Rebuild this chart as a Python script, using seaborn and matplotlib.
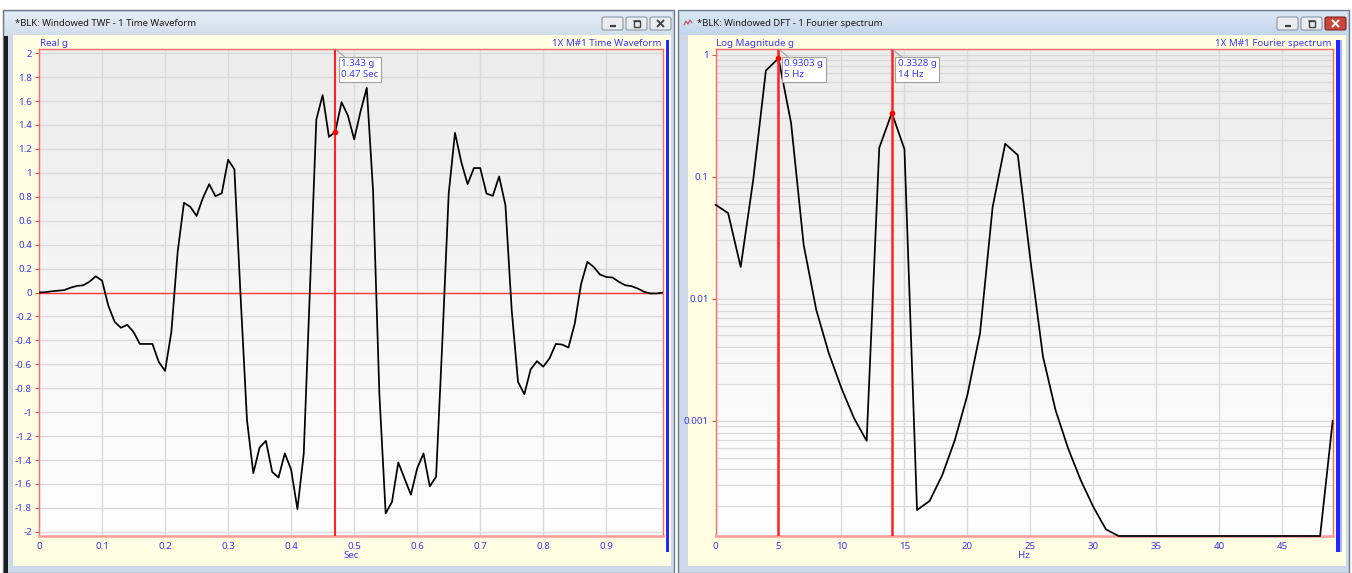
import numpy as np
import pandas as pd
import matplotlib
matplotlib.use("Agg")
import matplotlib.pyplot as plt
import seaborn as sns
from matplotlib.patches import Rectangle, FancyBboxPatch
from matplotlib.colors import LinearSegmentedColormap
from matplotlib.ticker import MultipleLocator, FuncFormatter, LogLocator, NullFormatter

# ---------------- data ----------------
sample_time = [round(i * 0.01, 2) for i in range(100)]  # sample grid, 10 ms spacing
accel_g = [
    0.0, 0.003, 0.01, 0.015, 0.02, 0.04, 0.055, 0.06, 0.09, 0.135,
    0.10, -0.11, -0.245, -0.295, -0.27, -0.33, -0.43, -0.43, -0.43, -0.58,
    -0.655, -0.33, 0.34, 0.75, 0.716, 0.64, 0.79, 0.905, 0.805, 0.83,
    1.11, 1.03, -0.05, -1.067, -1.51, -1.295, -1.24, -1.50, -1.546, -1.345,
    -1.48, -1.81, -1.35, 0.05, 1.445, 1.65, 1.30, 1.343, 1.59, 1.48,
    1.28, 1.51, 1.71, 0.85, -0.845, -1.846, -1.75, -1.42, -1.555, -1.69,
    -1.47, -1.345, -1.62, -1.54, -0.40, 0.827, 1.334, 1.09, 0.905, 1.04,
    1.04, 0.827, 0.808, 0.97, 0.73, -0.15, -0.747, -0.85, -0.643, -0.574,
    -0.62, -0.55, -0.43, -0.435, -0.46, -0.26, 0.07, 0.256, 0.214, 0.15,
    0.13, 0.125, 0.089, 0.061, 0.053, 0.033, 0.006, -0.008, -0.008, 0.0,
]

freq_hz = list(range(50))  # 1 Hz bins
spec_floor = 1.14e-4
spectrum_g = [
    0.0589, 0.0503, 0.0182, 0.095, 0.74, 0.9303, 0.275, 0.0276, 0.0081, 0.00357,
    0.00185, 0.00105, 0.000686, 0.172, 0.3328, 0.168, 0.000186, 0.000221, 0.000359, 0.000695,
    0.00163, 0.00521, 0.0563, 0.186, 0.150, 0.0208, 0.00335, 0.00122, 0.000593, 0.000326,
    0.000197, 0.000129, spec_floor, spec_floor, spec_floor, spec_floor, spec_floor, spec_floor, spec_floor, spec_floor,
    spec_floor, spec_floor, spec_floor, spec_floor, spec_floor, spec_floor, spec_floor, spec_floor, spec_floor, 0.001,
]

twf_cursor = (0.47, 1.343)
dft_cursors = [(5, 0.9303), (14, 0.3328)]

# ---------------- style ----------------
sns.set_theme(style="white")
plt.rcParams["font.family"] = ["Noto Sans", "DejaVu Sans"]

W, H = 1352, 573
BLUE_TXT = "#3a3af5"
PANEL = "#fffde2"
FRAME = "#cdd9e8"
GRID = "#dadada"
AX_RED = "#ff6b6b"
CUR_RED = "#ff2222"

fig = plt.figure(figsize=(W / 100, H / 100), dpi=100)
fig.patch.set_facecolor("white")

bg = fig.add_axes([0, 0, 1, 1])
bg.set_axis_off()


def px_rect(x0, y0, x1, y1):
    return [x0 / W, 1 - y1 / H, (x1 - x0) / W, (y1 - y0) / H]


def vgrad(ax, x0, y0, x1, y1, c_top, c_bot, z=1):
    cmap = LinearSegmentedColormap.from_list("g", [c_top, c_bot])
    ax.imshow(np.linspace(0, 1, 256)[:, None], cmap=cmap, extent=(x0, x1, y1, y0),
              aspect="auto", zorder=z, interpolation="bicubic")


def button(ax, x, y, kind, active=False):
    w, h = 21, 13
    fc = "#c9473a" if (active and kind == "x") else "#e9edf2"
    ec = "#7d2a22" if (active and kind == "x") else "#8a96a6"
    ax.add_patch(FancyBboxPatch((x, y), w, h, boxstyle="round,pad=0,rounding_size=2",
                                fc=fc, ec=ec, lw=0.8, zorder=3))
    col = "white" if (active and kind == "x") else "#404040"
    cx, cy = x + w / 2, y + h / 2
    if kind == "min":
        ax.plot([cx - 3, cx + 3], [cy + 2, cy + 2], color=col, lw=1.6, zorder=4,
                solid_capstyle="butt")
    elif kind == "max":
        ax.add_patch(Rectangle((cx - 3, cy - 3), 6, 6, fill=False, ec=col, lw=1.0, zorder=4))
        ax.plot([cx - 3, cx + 3], [cy - 2.5, cy - 2.5], color=col, lw=1.2, zorder=4)
    else:
        ax.plot([cx - 3, cx + 3], [cy - 3, cy + 3], color=col, lw=1.4, zorder=4)
        ax.plot([cx - 3, cx + 3], [cy + 3, cy - 3], color=col, lw=1.4, zorder=4)


def window(ax, x0, x1, title, active, icon=False):
    # frame
    ax.add_patch(Rectangle((x0, 10), x1 - x0, H - 10, fc=FRAME, ec="#6f7b8a", lw=1.0, zorder=1))
    # title bar
    vgrad(ax, x0 + 2, 12, x1 - 2, 35,
          "#e6edf6" if not active else "#dbe7f5",
          "#d3deea" if not active else "#c3d5ea", z=2)
    tx = x0 + 12
    if icon:
        ax.plot([x0 + 6, x0 + 8, x0 + 10, x0 + 12, x0 + 14], [25, 21, 24, 20, 23],
                color="#c05050", lw=0.8, zorder=3)
        tx = x0 + 19
    ax.text(tx, 23.5, title, fontsize=6.8, color="#1a1a1a", va="center", ha="left", zorder=3)
    bx = x1 - 72
    button(ax, bx, 17, "min", active)
    button(ax, bx + 24, 17, "max", active)
    button(ax, bx + 48, 17, "x", active)
    # inner panel
    ax.add_patch(Rectangle((x0 + 10, 35), x1 - x0 - 13, 531, fc=PANEL, ec="none", zorder=2))


# left and right windows
window(bg, 3, 674, "*BLK: Windowed TWF - 1 Time Waveform", active=False)
window(bg, 678, 1349, "*BLK: Windowed DFT - 1 Fourier spectrum", active=True, icon=True)
bg.add_patch(Rectangle((4, 36), 3.5, H - 36, fc="#1c1c1c", ec="none", zorder=3))

# plot backgrounds
L_BOX = (39, 49, 663, 536)
R_BOX = (715.5, 49, 1332.7, 536)
for (a, b, c, d) in (L_BOX, R_BOX):
    vgrad(bg, a, b, c, d, "#ececec", "#ffffff", z=2)

# blue scroll markers
bg.add_patch(Rectangle((665.5, 40), 3.5, 512, fc="#2424ff", ec="none", zorder=3))
bg.add_patch(Rectangle((1336, 40), 3.5, 512, fc="#2424ff", ec="none", zorder=3))
bg.add_patch(Rectangle((1339.5, 40), 2.5, 512, fc="#a9b6ff", ec="none", zorder=3))

bg.set_xlim(0, W)
bg.set_ylim(H, 0)

# header / axis captions
txt_kw = dict(fontsize=7, color=BLUE_TXT, zorder=5)
bg.text(40, 43, "Real g", ha="left", va="center", **txt_kw)
bg.text(661, 43, "1X M#1 Time Waveform", ha="right", va="center", **txt_kw)
bg.text(351, 556, "Sec", ha="center", va="center", **txt_kw)
bg.text(716, 43, "Log Magnitude g", ha="left", va="center", **txt_kw)
bg.text(1331, 43, "1X M#1 Fourier spectrum", ha="right", va="center", **txt_kw)
bg.text(1024, 555, "Hz", ha="center", va="center", **txt_kw)


def style_axes(ax):
    ax.set_facecolor("none")
    for s in ax.spines.values():
        s.set_visible(True)
        s.set_color(AX_RED)
        s.set_linewidth(1.0)
    ax.spines["bottom"].set_color("#ff9a9a")
    ax.spines["bottom"].set_linewidth(1.8)
    ax.tick_params(axis="x", length=0, pad=4, labelsize=7, labelcolor=BLUE_TXT)
    ax.tick_params(axis="y", which="major", length=3, width=0.8, color="#e05050",
                   pad=2, labelsize=7, labelcolor=BLUE_TXT, left=True)
    ax.tick_params(axis="y", which="minor", length=0)
    ax.set_xlabel("")
    ax.set_ylabel("")


def gfmt(v, _):
    return f"{round(v, 3):g}"


# ---------------- time waveform ----------------
axL = fig.add_axes(px_rect(*L_BOX))
twf = pd.DataFrame({"Sec": sample_time, "g": accel_g})
sns.lineplot(data=twf, x="Sec", y="g", ax=axL, color="black", lw=1.25, zorder=4)
axL.set_xlim(0, 0.99)
axL.set_ylim(-2.035, 2.035)
axL.xaxis.set_major_locator(MultipleLocator(0.1))
axL.yaxis.set_major_locator(MultipleLocator(0.2))
axL.xaxis.set_major_formatter(FuncFormatter(gfmt))
axL.yaxis.set_major_formatter(FuncFormatter(gfmt))
axL.grid(True, which="major", color=GRID, lw=1.0, zorder=0)
axL.axhline(0, color="#ff3b3b", lw=1.0, zorder=3)
style_axes(axL)
axL.set_axisbelow(True)

cx, cy = twf_cursor
axL.axvline(cx, color=CUR_RED, lw=1.5, zorder=5)
axL.plot([cx], [cy], "o", color="red", ms=3, zorder=6)
axL.annotate(f"{cy:.3f} g\n{cx:g} Sec", xy=(cx, 1.0), xycoords=("data", "axes fraction"),
             xytext=(4.2, -7.5), textcoords="offset points", ha="left", va="top",
             fontsize=7, color=BLUE_TXT, linespacing=1.25, zorder=7,
             bbox=dict(boxstyle="square,pad=0.25", fc="white", ec="#a0a0a0", lw=0.8),
             arrowprops=dict(arrowstyle="-", color="#a0a0a0", lw=0.8, shrinkA=0, shrinkB=0))

# ---------------- spectrum ----------------
axR = fig.add_axes(px_rect(*R_BOX))
dft = pd.DataFrame({"Hz": freq_hz, "g": spectrum_g})
axR.set_yscale("log")
sns.lineplot(data=dft, x="Hz", y="g", ax=axR, color="black", lw=1.25, zorder=4, clip_on=False)
axR.set_xlim(0, 49)
axR.set_ylim(spec_floor, 1.11)
axR.xaxis.set_major_locator(MultipleLocator(5))
axR.xaxis.set_major_formatter(FuncFormatter(gfmt))
axR.yaxis.set_major_locator(LogLocator(base=10, numticks=10))
axR.yaxis.set_minor_locator(LogLocator(base=10, subs=np.arange(2, 10), numticks=20))
axR.yaxis.set_major_formatter(FuncFormatter(lambda v, _: f"{v:g}"))
axR.yaxis.set_minor_formatter(NullFormatter())
axR.grid(True, which="major", color=GRID, lw=1.0, zorder=0)
axR.grid(True, which="minor", axis="y", color=GRID, lw=0.9, zorder=0)
style_axes(axR)
axR.set_axisbelow(True)

for fx, fy in dft_cursors:
    axR.axvline(fx, color=CUR_RED, lw=1.8, zorder=5)
    axR.plot([fx], [fy], "o", color="red", ms=3, zorder=6)
    axR.annotate(f"{fy:.4f} g\n{fx} Hz", xy=(fx, 1.0), xycoords=("data", "axes fraction"),
                 xytext=(4.2, -7.5), textcoords="offset points", ha="left", va="top",
                 fontsize=7, color=BLUE_TXT, linespacing=1.25, zorder=7,
                 bbox=dict(boxstyle="square,pad=0.25", fc="white", ec="#a0a0a0", lw=0.8),
                 arrowprops=dict(arrowstyle="-", color="#a0a0a0", lw=0.8, shrinkA=0, shrinkB=0))

fig.savefig("out.png", dpi=100)
